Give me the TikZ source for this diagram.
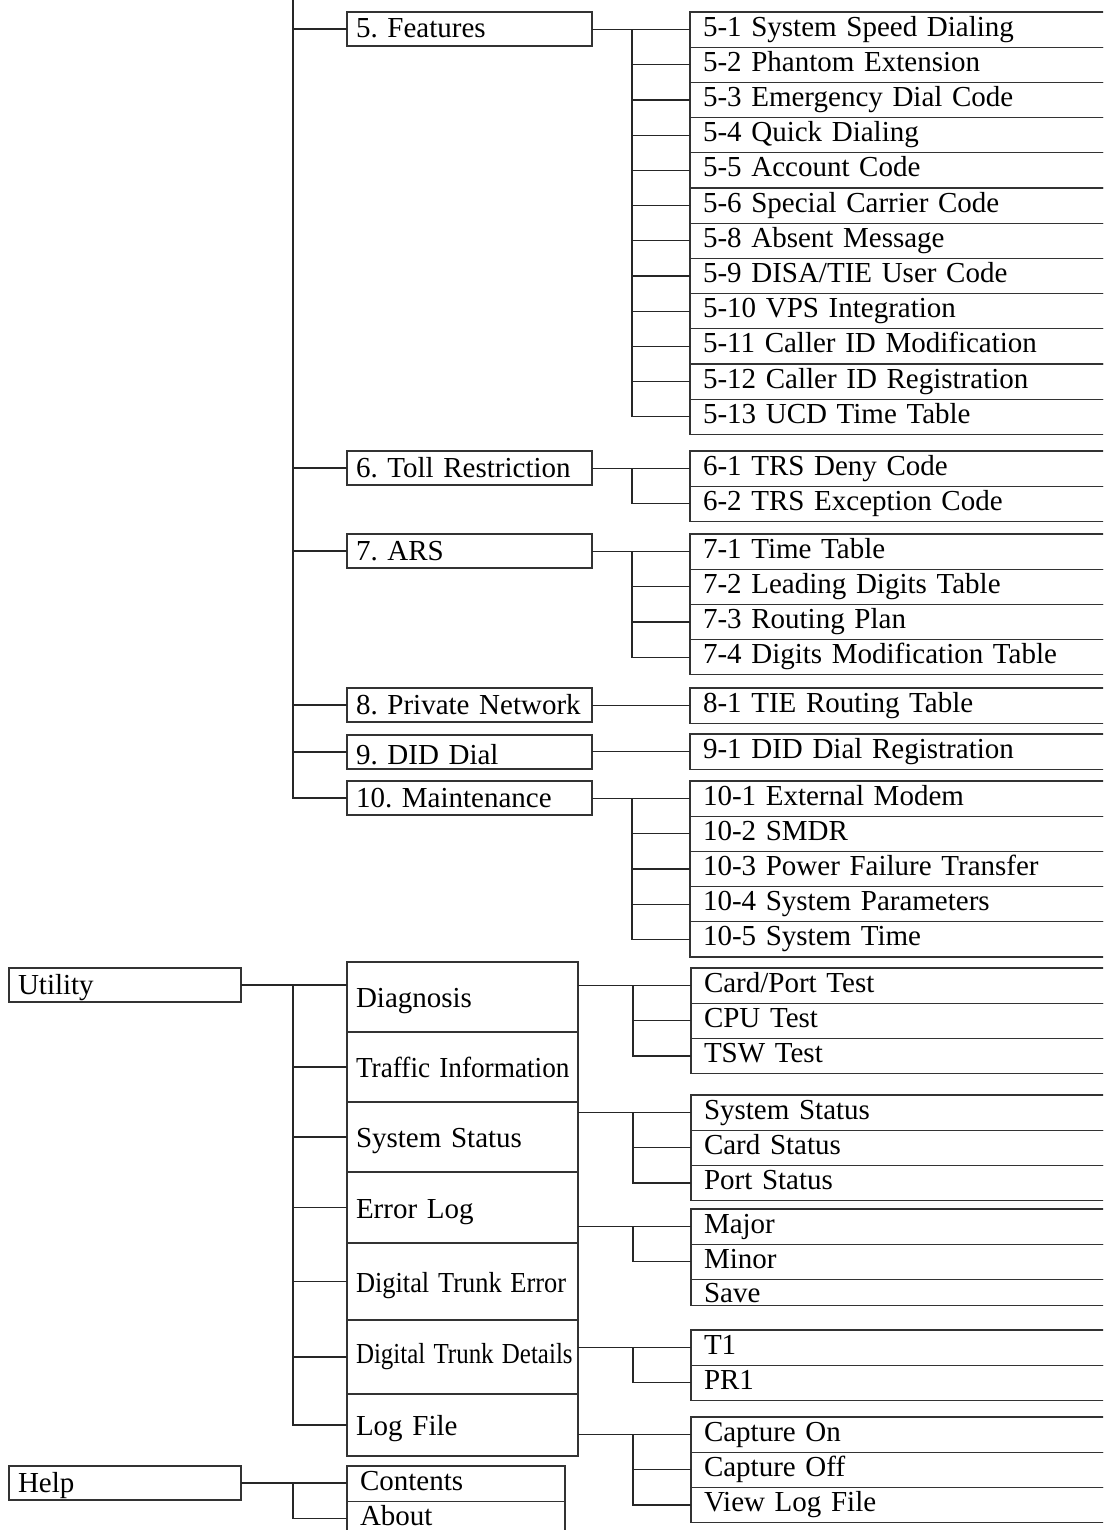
\documentclass[tikz,border=0pt]{standalone}
\usepackage{fontspec}
\setmainfont{Liberation Serif}
\usepackage{graphicx}
\usetikzlibrary{positioning}
\tikzset{
  basebox/.style={draw=black!80, line width=1.2pt, inner ysep=0pt, outer sep=0pt,
    align=left, font=\fontsize{29pt}{34pt}\selectfont\frenchspacing},
  menubox/.style={basebox, inner xsep=9pt, text width=227pt, minimum height=34pt,
    text height=24.4pt, text depth=6.4pt},
  topbox/.style={basebox, inner xsep=9pt, text width=214pt, minimum height=34pt,
    text height=24.4pt, text depth=6.4pt},
  colbox/.style={basebox, inner xsep=9pt, text width=213pt,
    text height=27.4pt, text depth=6.4pt},
  itembox/.style={basebox, inner xsep=13pt, text width=404pt, minimum height=35.2pt,
    text height=19.4pt, text depth=6.4pt},
  helpbox/.style={itembox, text width=192pt},
  conn/.style={line width=1.2pt, draw=black!85}
}

\begin{document}
\begin{tikzpicture}[x=1pt, y=-1pt]
    \useasboundingbox (0,0) rectangle (1103,1530);
    \clip (0,0) rectangle (1103,1530);
    \coordinate (trunk) at (293,0);
    \node[menubox, anchor=north west] (f5) at (347,12) {5. Features};
    \node[menubox, anchor=north west] (f6) at (347,451) {6. Toll Restriction};
    \node[menubox, anchor=north west] (f7) at (347,534) {7. ARS};
    \node[menubox, anchor=north west] (f8) at (347,688) {8. Private Network};
    \node[menubox, anchor=north west, text height=25pt, text depth=0pt] (f9) at (347,735) {9. DID Dial};
    \node[menubox, anchor=north west] (f10) at (347,781) {10. Maintenance};

    \node[itembox, anchor=north west] (f5-1) at (690,12) {5-1 System Speed Dialing};
    \foreach \t [count=\i from 2, remember=\i as \j (initially 1)] in {5-2 Phantom Extension,
        5-3 Emergency Dial Code, 5-4 Quick Dialing, 5-5 Account Code, 5-6 Special Carrier Code,
        5-8 Absent Message, 5-9 DISA/TIE User Code, 5-10 VPS Integration,
        5-11 Caller ID Modification, 5-12 Caller ID Registration, 5-13 UCD Time Table}
      \node[itembox, below=0pt of f5-\j] (f5-\i) {\t};
    \node[itembox, anchor=north west] (f6-1) at (690,451) {6-1 TRS Deny Code};
    \node[itembox, below=0pt of f6-1] (f6-2) {6-2 TRS Exception Code};
    \node[itembox, anchor=north west] (f7-1) at (690,534) {7-1 Time Table};
    \foreach \t [count=\i from 2, remember=\i as \j (initially 1)] in {7-2 Leading Digits Table,
        7-3 Routing Plan, 7-4 Digits Modification Table}
      \node[itembox, below=0pt of f7-\j] (f7-\i) {\t};
    \node[itembox, anchor=north west] (f8-1) at (690,688) {8-1 TIE Routing Table};
    \node[itembox, anchor=north west] (f9-1) at (690,734) {9-1 DID Dial Registration};
    \node[itembox, anchor=north west] (f10-1) at (690,781) {10-1 External Modem};
    \foreach \t [count=\i from 2, remember=\i as \j (initially 1)] in {10-2 SMDR,
        10-3 Power Failure Transfer, 10-4 System Parameters, 10-5 System Time}
      \node[itembox, below=0pt of f10-\j] (f10-\i) {\t};

    \node[topbox, anchor=north west] (util) at (9,968) {Utility};
    \node[colbox, minimum height=70pt, anchor=north west] (diag) at (347,962) {Diagnosis};
    \node[colbox, minimum height=70pt, below=0pt of diag] (traf) {\scalebox{0.94}[1]{Traffic Information}};
    \node[colbox, minimum height=70pt, below=0pt of traf] (sstat) {System Status};
    \node[colbox, minimum height=71pt, below=0pt of sstat] (elog) {Error Log};
    \node[colbox, minimum height=77pt, below=0pt of elog] (dterr) {\scalebox{0.91}[1]{Digital Trunk Error}};
    \node[colbox, minimum height=74pt, text height=18.4pt, below=0pt of dterr] (dtdet) {\scalebox{0.86}[1]{Digital Trunk Details}};
    \node[colbox, minimum height=62pt, below=0pt of dtdet] (logf) {Log File};

    \node[itembox, anchor=north west] (diag-1) at (691,968) {Card/Port Test};
    \node[itembox, below=0pt of diag-1] (diag-2) {CPU Test};
    \node[itembox, below=0pt of diag-2] (diag-3) {TSW Test};
    \node[itembox, anchor=north west] (sstat-1) at (691,1095) {System Status};
    \node[itembox, below=0pt of sstat-1] (sstat-2) {Card Status};
    \node[itembox, below=0pt of sstat-2] (sstat-3) {Port Status};
    \node[itembox, anchor=north west] (elog-1) at (691,1209) {Major};
    \node[itembox, below=0pt of elog-1] (elog-2) {Minor};
    \node[itembox, minimum height=26pt, text height=23pt, text depth=3pt, below=0pt of elog-2] (elog-3) {Save};
    \node[itembox, anchor=north west] (dtdet-1) at (691,1330) {T1};
    \node[itembox, below=0pt of dtdet-1] (dtdet-2) {PR1};
    \node[itembox, anchor=north west] (logf-1) at (691,1417) {Capture On};
    \node[itembox, below=0pt of logf-1] (logf-2) {Capture Off};
    \node[itembox, below=0pt of logf-2] (logf-3) {View Log File};

    \node[topbox, anchor=north west] (help) at (9,1466) {Help};
    \node[helpbox, anchor=north west] (cont) at (347,1466) {Contents};
    \node[helpbox, below=0pt of cont] (about) {About};

    \draw[conn] (trunk) |- (f10.west);
    \foreach \n in {f5,f6,f7,f8,f9}
      \draw[conn] (trunk |- \n.west) -- (\n.west);
    \draw[conn] (f8.east |- f8-1.west) -- (f8-1.west);
    \draw[conn] (f9.east |- f9-1.west) -- (f9-1.west);
    \foreach \p/\n in {f5/12, f6/2, f7/4, f10/5, diag/3, sstat/3, elog/2, dtdet/2, logf/3} {
      \draw[conn] (\p.east |- \p-1.west) -- (\p-1.west);
      \draw[conn] ([xshift=-58pt]\p-1.west) |- (\p-\n.west);
      \foreach \i in {2,...,\n}
        \draw[conn] ([xshift=-58pt]\p-\i.west) -- (\p-\i.west);
    }

    \coordinate[right=52pt of util.east] (ujoin);
    \draw[conn] (util.east) -- (util.east -| diag.west);
    \draw[conn] (ujoin) |- (logf.west);
    \foreach \n in {traf,sstat,elog,dterr,dtdet}
      \draw[conn] (ujoin |- \n.west) -- (\n.west);
    \coordinate[right=52pt of help.east] (hjoin);
    \draw[conn] (help.east) -- (help.east -| cont.west);
    \draw[conn] (hjoin) |- (about.west);
  \end{tikzpicture}
\end{document}
